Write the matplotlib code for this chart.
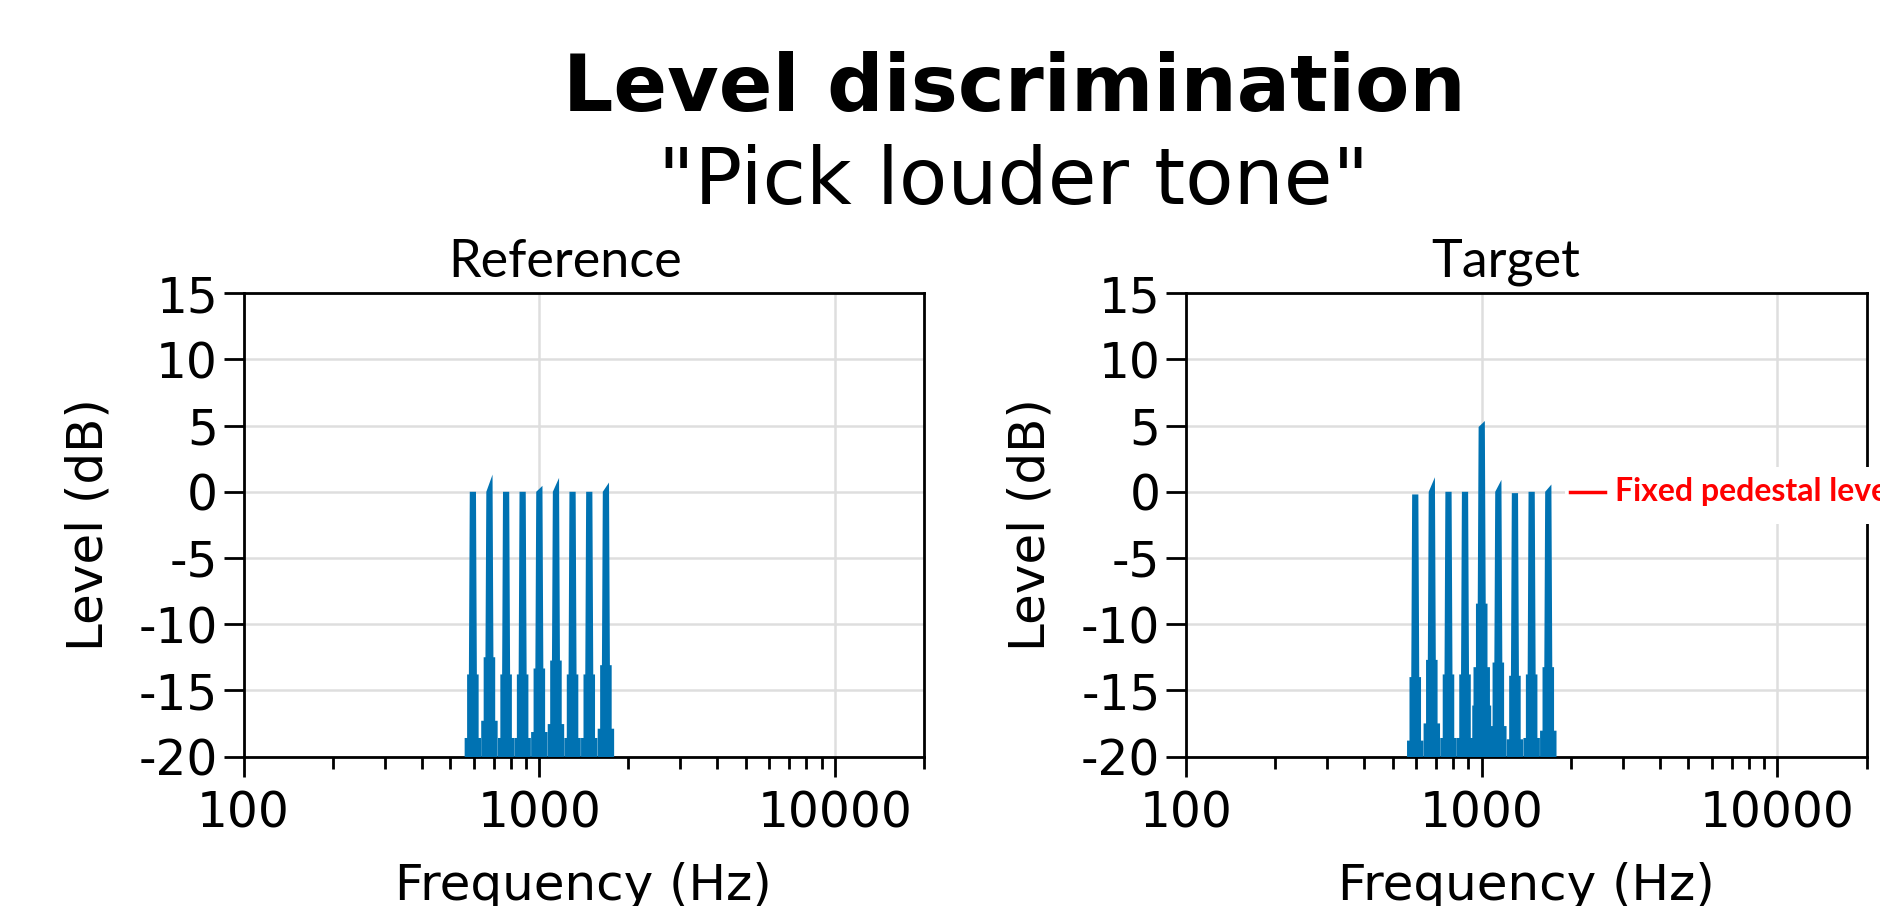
import numpy as np
import matplotlib.pyplot as plt
from matplotlib.patches import Rectangle
from matplotlib.ticker import LogLocator, NullFormatter

# tone complex
tone_freqs = [596, 678, 772, 878, 1000, 1138, 1295, 1475, 1679]
# level at left / right corner of each spike top (dB)
ref_top_left = [0.0, 0.0, 0.0, 0.0, 0.0, 0.0, 0.0, 0.0, 0.0]
ref_top_right = [0.0, 1.3, 0.0, 0.0, 0.45, 1.05, 0.0, 0.0, 0.7]
tgt_top_left = [-0.2, 0.0, 0.0, 0.0, 4.9, 0.0, -0.1, 0.0, 0.0]
tgt_top_right = [-0.2, 1.1, 0.0, 0.0, 5.35, 0.9, -0.1, 0.0, 0.55]
pedestal_level = 0

xticks = [100, 1000, 10000]
yticks = [-20, -15, -10, -5, 0, 5, 10, 15]

BLUE = '#0072B2'
GRID = '#dedede'

# spike half widths in decades and steps below the peak (dB)
hw_top, hw_neck, hw_mid, hw_wide, hw_outer = 0.0105, 0.0135, 0.0195, 0.0278, 0.032
drop1, drop2, drop3 = 13.8, 18.6, 21.5


def draw_tones(ax, tops_left, tops_right):
    for f, lo, hi in zip(tone_freqs, tops_left, tops_right):
        pk = max(lo, hi)
        dec = [-hw_outer, -hw_outer, -hw_wide, -hw_wide, -hw_mid, -hw_mid, -hw_neck, -hw_top,
               hw_top, hw_neck, hw_mid, hw_mid, hw_wide, hw_wide, hw_outer, hw_outer]
        lev = [-30, pk - drop3, pk - drop3, pk - drop2, pk - drop2, pk - drop1, pk - drop1, lo,
               hi, pk - drop1, pk - drop1, pk - drop2, pk - drop2, pk - drop3, pk - drop3, -30]
        xs = [f * 10 ** d for d in dec]
        ax.fill(xs, lev, color=BLUE, lw=0, zorder=3)


def style_axes(ax, title, title_x):
    ax.set_xscale('log')
    ax.set_xlim(100, 20000)
    ax.set_ylim(-20, 15)
    ax.set_xticks(xticks, [str(t) for t in xticks])
    ax.xaxis.set_minor_locator(LogLocator(base=10, subs=np.arange(2, 10)))
    ax.xaxis.set_minor_formatter(NullFormatter())
    ax.set_yticks(yticks, [str(t) for t in yticks])
    ax.grid(True, which='major', color=GRID, lw=1.8, zorder=0)
    ax.set_axisbelow(True)
    for s in ax.spines.values():
        s.set_linewidth(2)
    ax.tick_params(axis='both', which='major', length=14.4, width=2, labelsize=35)
    ax.tick_params(axis='x', which='major', pad=9)
    ax.tick_params(axis='y', which='major', pad=4)
    ax.tick_params(axis='x', which='minor', length=8.6, width=2)
    ax.set_xlabel('Frequency (Hz)', fontsize=36)
    ax.set_ylabel('Level (dB)', fontsize=36)
    ax.xaxis.set_label_coords(0.5, -0.228)
    ax.yaxis.set_label_coords(-0.193, 0.5)
    ax.text(title_x, 1.036, title, transform=ax.transAxes, ha='center', va='baseline',
            fontsize=37.5, family='Lato')


fig = plt.figure(figsize=(18.81, 9.06), dpi=100)
ax1 = fig.add_axes([0.1295, 0.165, 0.3618, 0.5113])
ax2 = fig.add_axes([0.6305, 0.165, 0.3618, 0.5113])

style_axes(ax1, 'Reference', 0.473)
style_axes(ax2, 'Target', 0.47)
draw_tones(ax1, ref_top_left, ref_top_right)
draw_tones(ax2, tgt_top_left, tgt_top_right)

# pedestal marker on the target panel
ax2.add_patch(Rectangle((1915, pedestal_level - 2.4), 1e6, 4.3, facecolor='white',
                        edgecolor='none', clip_on=False, zorder=5))
ax2.plot([1990, 2610], [pedestal_level, pedestal_level], color='red', lw=2.5,
         clip_on=False, zorder=6)
ax2.text(2830, pedestal_level, 'Fixed pedestal level', color='red', fontsize=23,
         fontweight='bold', family='Lato', va='center', ha='left', clip_on=False, zorder=6)

fig.text(0.539, 0.877, 'Level discrimination', ha='center', va='baseline',
         fontsize=57, fontweight='bold')
fig.text(0.539, 0.775, '"Pick louder tone"', ha='center', va='baseline', fontsize=57)

fig.savefig('out.png', dpi=100)
